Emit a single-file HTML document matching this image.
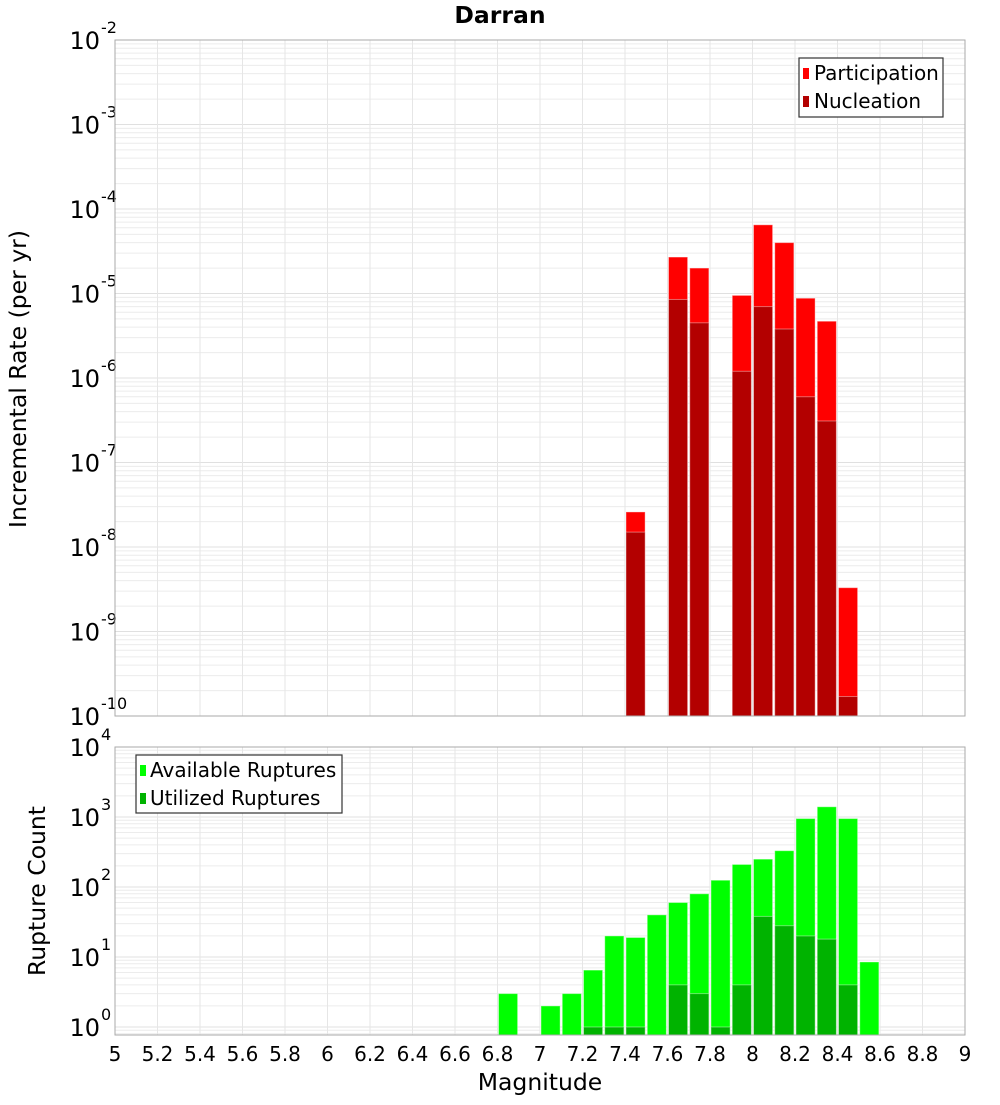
<!DOCTYPE html>
<html><head><meta charset="utf-8"><style>
body{margin:0;background:#fff;}
svg text{font-family:"DejaVu Sans","Liberation Sans",sans-serif;}
</style></head><body>
<svg id="chart" width="1000" height="1100" xmlns="http://www.w3.org/2000/svg">
<text x="500" y="23" text-anchor="middle" font-size="23.5" font-weight="bold">Darran</text>
<g id="top"></g><g id="bot"></g>
<text transform="translate(26,379) rotate(-90)" text-anchor="middle" font-size="23.5">Incremental Rate (per yr)</text>
<text transform="translate(45,891) rotate(-90)" text-anchor="middle" font-size="23.5">Rupture Count</text>
<text x="540" y="1090" text-anchor="middle" font-size="23.5">Magnitude</text>
<g>
<rect x="799" y="58" width="144" height="59" fill="#fff" stroke="#333" stroke-width="1.2"/>
<rect x="803" y="68" width="6" height="11" fill="#ff0000"/>
<text x="814" y="80" font-size="20">Participation</text>
<rect x="803" y="96" width="6" height="11" fill="#b30000"/>
<text x="814" y="108" font-size="20">Nucleation</text>
</g>
<g>
<rect x="136" y="755" width="206" height="58" fill="#fff" stroke="#333" stroke-width="1.2"/>
<rect x="140" y="765" width="6" height="11" fill="#00ff00"/>
<text x="150" y="777" font-size="20">Available Ruptures</text>
<rect x="140" y="793" width="6" height="11" fill="#00b300"/>
<text x="150" y="805" font-size="20">Utilized Ruptures</text>
</g>
</svg>
<script>
const rateMags=[7.45,7.65,7.75,7.95,8.05,8.15,8.25,8.35,8.45];
const participation=[2.6e-8,2.7e-5,2e-5,9.5e-6,6.5e-5,4e-5,8.8e-6,4.7e-6,3.3e-9];
const nucleation=[1.5e-8,8.5e-6,4.5e-6,1.2e-6,7e-6,3.8e-6,6e-7,3.1e-7,1.7e-10];
const countMags=[6.85,7.05,7.15,7.25,7.35,7.45,7.55,7.65,7.75,7.85,7.95,8.05,8.15,8.25,8.35,8.45,8.55];
const available=[3,2,3,6.5,20,19,40,60,80,125,210,250,330,950,1400,950,8.5];
const utilized=[0,0,0,1,1,1,0,4,3,1,4,38,28,20,18,4,0];
const xTicks=[5,5.2,5.4,5.6,5.8,6,6.2,6.4,6.6,6.8,7,7.2,7.4,7.6,7.8,8,8.2,8.4,8.6,8.8,9];
const rateExps=[-10,-9,-8,-7,-6,-5,-4,-3,-2];
const countExps=[0,1,2,3,4];

const NS="http://www.w3.org/2000/svg";
const X0=115,X1=965;
const xs=m=>X0+(m-5)/4*(X1-X0);
function mk(parent,tag,attrs){const e=document.createElementNS(NS,tag);for(const k in attrs)e.setAttribute(k,attrs[k]);parent.appendChild(e);return e;}
function panel(g,top,bottom,yOf,lo,hi,exps){
  for(let e=Math.floor(lo);e<hi;e++)for(let k=1;k<10;k++){const v=Math.log10(k)+e;if(v<lo||v>hi)continue;const y=yOf(v);
    const l=mk(g,'line',{x1:X0,x2:X1,y1:y,y2:y,stroke:k==1?'#e0e0e0':'#ececec','stroke-width':1});
    
    }
  xTicks.forEach(t=>{const l=mk(g,'line',{x1:xs(t),x2:xs(t),y1:top,y2:bottom,stroke:'#e6e6e6'});
    
    });
  exps.forEach(e=>{const y=yOf(e);
    const t=mk(g,'text',{x:100,y:y+9,'text-anchor':'end','font-size':24});
    
    
    t.textContent='10';
    const s=mk(g,'text',{x:101,y:y-7,'font-size':16});
    
    
    s.textContent=String(e);});
}
function bar(g,m,v,yOf,bottom,fill,name){
  if(!(v>0))return;
  const x=xs(m-0.05)+1,w=xs(m+0.04)-xs(m-0.05);const y=yOf(Math.log10(v));
  const r=mk(g,'rect',{x:x,y:y,width:w,height:Math.max(0,bottom-y),fill:fill,stroke:'rgba(255,255,255,0.4)','stroke-width':1});
  
  
}
const T0=40,T1=716;const yT=v=>T1-(v+10)/8*(T1-T0);
const gt=document.getElementById('top');


panel(gt,T0,T1,yT,-10,-2,rateExps);
rateMags.forEach((m,i)=>bar(gt,m,participation[i],yT,T1,'#ff0000','participation-bar'));
rateMags.forEach((m,i)=>bar(gt,m,nucleation[i],yT,T1,'#b30000','nucleation-bar'));
mk(gt,'rect',{x:X0,y:T0,width:X1-X0,height:T1-T0,fill:'none',stroke:'#aaa'});
const B0=747,B1=1035,DEC=70;const lo=4-(B1-B0)/DEC;const yB=v=>B0+(4-v)*DEC;
const gb=document.getElementById('bot');


panel(gb,B0,B1,yB,lo,4,countExps);
countMags.forEach((m,i)=>bar(gb,m,available[i],yB,B1,'#00ff00','available-bar'));
countMags.forEach((m,i)=>bar(gb,m,utilized[i],yB,B1,'#00b300','utilized-bar'));
mk(gb,'rect',{x:X0,y:B0,width:X1-X0,height:B1-B0,fill:'none',stroke:'#aaa'});
xTicks.forEach(t=>{const tx=mk(gb,'text',{x:xs(t),y:1061,'text-anchor':'middle','font-size':20});
  
  
  tx.textContent=String(t);});
</script>
</body></html>
